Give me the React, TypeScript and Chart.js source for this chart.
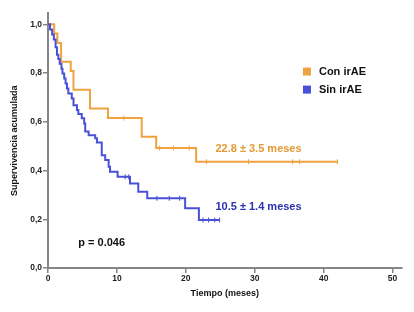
import React, { useEffect, useRef } from 'react';
import { Chart, registerables } from 'chart.js';

Chart.register(...registerables);

// ---- data ----
const seriesLabels = ['Con irAE', 'Sin irAE'];

const conTimes = [0, 0.9, 1.36, 1.9, 3.3, 3.7, 6.1, 8.7, 13.6, 15.7, 21.5, 42.1];
const conSurv = [1.0, 0.962, 0.923, 0.846, 0.808, 0.731, 0.654, 0.615, 0.538, 0.492, 0.436, 0.436];
const conCensored = [11.0, 16.2, 18.2, 20.5, 23.0, 29.1, 35.5, 36.5, 42.0];

const sinTimes = [0, 0.3, 0.6, 0.85, 1.1, 1.3, 1.5, 1.7, 1.95, 2.1, 2.35, 2.55, 2.75, 2.95, 3.45, 3.7, 4.2, 4.4, 4.9, 5.25, 5.4, 5.9, 6.85, 7.1, 7.8, 8.3, 8.8, 9.0, 10.1, 11.9, 13.1, 14.4, 19.9, 21.9, 24.9];
const sinSurv = [1.0, 0.979, 0.958, 0.938, 0.906, 0.875, 0.858, 0.838, 0.818, 0.798, 0.777, 0.757, 0.736, 0.716, 0.695, 0.668, 0.648, 0.632, 0.614, 0.593, 0.56, 0.545, 0.532, 0.515, 0.463, 0.443, 0.415, 0.395, 0.374, 0.347, 0.313, 0.286, 0.245, 0.197, 0.197];
const sinCensored = [11.2, 11.7, 15.8, 17.6, 19.1, 22.5, 23.3, 24.2, 24.9];

const medianLabels = ['22.8 ± 3.5 meses', '10.5 ± 1.4 meses'];
const pValueLabel = 'p = 0.046';

const xTickValues = [0, 10, 20, 30, 40, 50];
const yTickValues = [0, 0.2, 0.4, 0.6, 0.8, 1.0];
const xTitle = 'Tiempo (meses)';
const yTitle = 'Supervivencia acumulada';

// ---- styles ----
const ORANGE = '#EEA33E';
const BLUE = '#4A50D6';
const ORANGE_TEXT = '#E39A33';
const BLUE_TEXT = '#2B31B2';
const AXIS = '#858585';
const FONT = '"Liberation Sans", Arial, sans-serif';

function stepAt(times: number[], surv: number[], t: number) {
  let v = surv[0];
  for (let i = 0; i < times.length; i++) if (times[i] <= t) v = surv[i];
  return v;
}

const annotationPlugin = {
  id: 'kmAnnotations',
  afterDraw(chart: any) {
    const { ctx } = chart;
    const xs = chart.scales.x;
    const ys = chart.scales.y;
    ctx.save();
    ctx.textBaseline = 'middle';
    ctx.textAlign = 'left';
    ctx.font = `bold 11px ${FONT}`;
    ctx.fillStyle = ORANGE_TEXT;
    ctx.fillText(medianLabels[0], xs.getPixelForValue(24.3), ys.getPixelForValue(0.49));
    ctx.fillStyle = BLUE_TEXT;
    ctx.fillText(medianLabels[1], xs.getPixelForValue(24.3), ys.getPixelForValue(0.251));
    ctx.fillStyle = '#111';
    ctx.fillText(pValueLabel, xs.getPixelForValue(4.4), ys.getPixelForValue(0.104));
    const colors = [ORANGE, BLUE];
    const legendY = [0.806, 0.732];
    const lx = xs.getPixelForValue(37.0);
    seriesLabels.forEach((lab, i) => {
      const cy = ys.getPixelForValue(legendY[i]);
      ctx.fillStyle = colors[i];
      ctx.fillRect(lx, cy - 4, 8, 8);
      ctx.fillStyle = '#111';
      ctx.fillText(lab, lx + 16, cy);
    });
    ctx.restore();
  },
};

export default function App() {
  const ref = useRef<HTMLCanvasElement | null>(null);
  useEffect(() => {
    if (!ref.current) return;
    const lineCon = conTimes.map((t, i) => ({ x: t, y: conSurv[i] }));
    const lineSin = sinTimes.map((t, i) => ({ x: t, y: sinSurv[i] }));
    const cenCon = conCensored.map((t) => ({ x: t, y: stepAt(conTimes, conSurv, t) }));
    const cenSin = sinCensored.map((t) => ({ x: t, y: stepAt(sinTimes, sinSurv, t) }));

    const chart = new Chart(ref.current, {
      type: 'scatter',
      data: {
        datasets: [
          { label: seriesLabels[0], data: lineCon, showLine: true, stepped: 'before', borderColor: ORANGE, borderWidth: 2, pointRadius: 0, order: 2 },
          { label: seriesLabels[1], data: lineSin, showLine: true, stepped: 'before', borderColor: BLUE, borderWidth: 2, pointRadius: 0, order: 1 },
          { label: 'c1', data: cenCon, showLine: false, pointStyle: 'line', rotation: 90, radius: 2.5, borderColor: ORANGE, borderWidth: 1, order: 2 } as any,
          { label: 'c2', data: cenSin, showLine: false, pointStyle: 'line', rotation: 90, radius: 2.5, borderColor: BLUE, borderWidth: 1, order: 1 } as any,
        ],
      } as any,
      options: {
        responsive: false,
        animation: false,
        layout: { padding: { top: 13.3, right: 12.5, left: 0, bottom: 0 } },
        plugins: { legend: { display: false }, tooltip: { enabled: false } },
        scales: {
          x: {
            type: 'linear',
            min: 0,
            max: 51.3,
            afterBuildTicks: (s: any) => { s.ticks = xTickValues.map((v) => ({ value: v })); },
            afterFit: (s: any) => { s.height = 44; },
            grid: { drawOnChartArea: false, drawTicks: true, tickLength: 5, color: AXIS, lineWidth: 1.5 },
            border: { color: AXIS, width: 2 },
            ticks: { color: '#222', padding: 1, font: { family: FONT, size: 8.5, weight: 'bold' }, maxRotation: 0 },
            title: { display: true, text: xTitle, color: '#111', font: { family: FONT, size: 9, weight: 'bold' }, padding: { bottom: 12.6, top: 0 } },
          },
          y: {
            type: 'linear',
            min: 0,
            max: 1.045,
            afterBuildTicks: (s: any) => { s.ticks = yTickValues.map((v) => ({ value: v })); },
            afterFit: (s: any) => { s.width = 48; },
            grid: { drawOnChartArea: false, drawTicks: true, tickLength: 5, color: AXIS, lineWidth: 1.5 },
            border: { color: AXIS, width: 2 },
            ticks: { color: '#222', padding: 1, font: { family: FONT, size: 8.5, weight: 'bold' }, callback: (v: any) => Number(v).toFixed(1).replace('.', ',') },
            title: { display: true, text: yTitle, color: '#111', font: { family: FONT, size: 9, weight: 'bold' }, padding: { top: 9.6, bottom: 0 } },
          },
        },
      } as any,
      plugins: [annotationPlugin],
    });
    return () => chart.destroy();
  }, []);

  return (
    <div style={{ position: 'fixed', left: 0, top: 0, width: 414, height: 312, background: '#fff' }}>
      <canvas ref={ref} width={414} height={312} />
    </div>
  );
}
